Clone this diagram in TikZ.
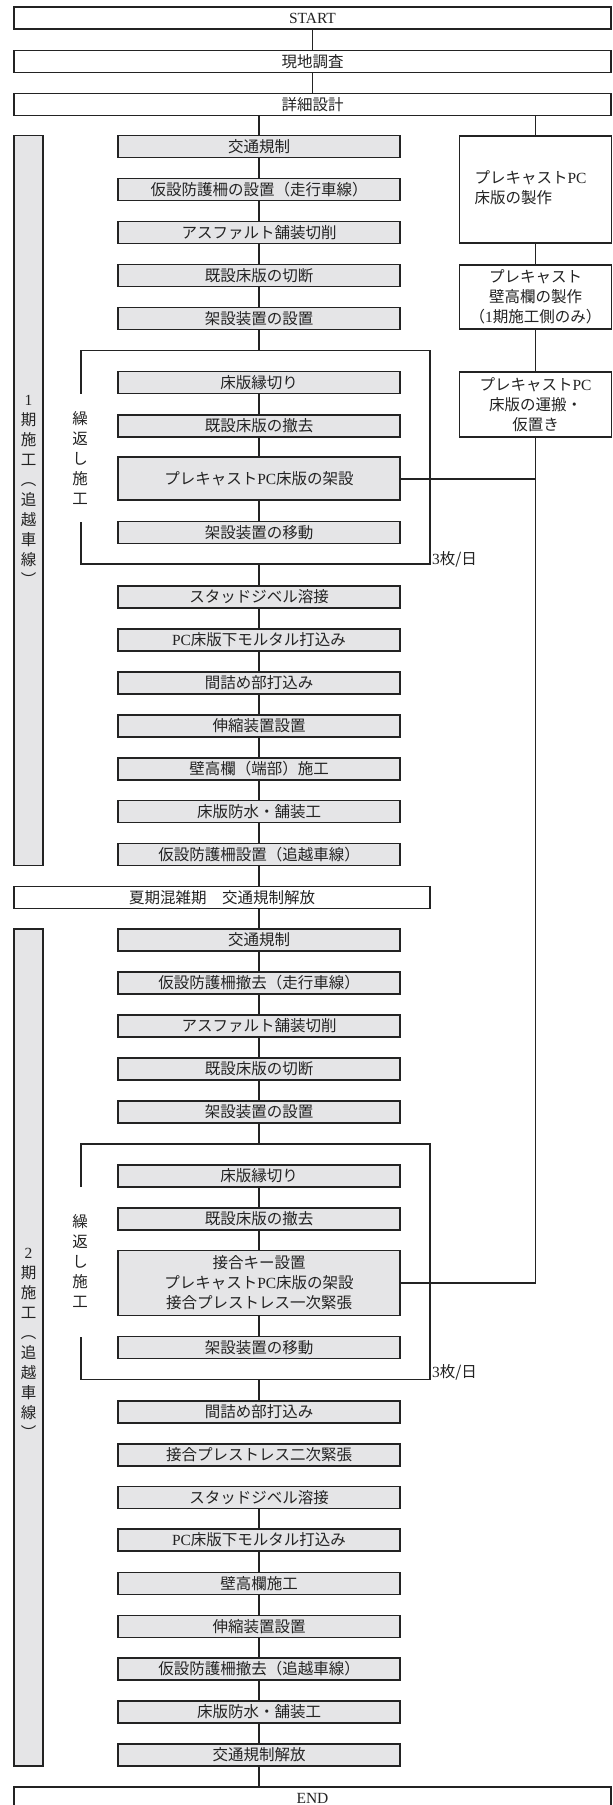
\documentclass[tikz,border=0pt]{standalone}
\usepackage{fontspec}
\setmainfont{Noto Sans CJK JP}
\newfontfamily\lat{Liberation Serif}
\definecolor{boxgray}{RGB}{229,229,231}
\definecolor{ink}{RGB}{35,35,35}
\begin{document}
\begin{tikzpicture}[x=1pt,y=-1pt,
  every node/.style={inner sep=0pt, outer sep=0pt, text=ink, font=\fontsize{15.5}{20}\selectfont},
  line/.style={draw=ink, line width=1.7pt},
  wide/.style={draw=ink, line width=1.7pt, fill=white, minimum height=22pt, align=center},
  stepbox/.style={draw=ink, line width=1.7pt, fill=boxgray, minimum width=282pt, minimum height=22pt, align=center},
  rbox/.style={draw=ink, line width=1.7pt, fill=white, minimum width=152pt, align=center},
  phasebar/.style={draw=ink, line width=1.7pt, fill=boxgray, minimum width=29pt},
  vtext/.style={align=center},
]
\useasboundingbox (0,0) rectangle (613,1805);

% top boxes
\node[wide, minimum width=597pt] (start) at (312.5,18) {\lat START};
\node[wide, minimum width=597pt] (genchi) at (312.5,61.5) {現地調査};
\node[wide, minimum width=597pt] (shosai) at (312.5,104.5) {詳細設計};

% phase bars
\node[phasebar, minimum height=730pt] (bar1) at (28.5,500.5) {};
\node[vtext] (lab1) at (28.5,490) {{\lat 1}\\期\\施\\工\\︵\\追\\越\\車\\線\\︶};
\node[phasebar, minimum height=837pt] (bar2) at (28.5,1347.5) {};
\node[vtext] (lab2) at (28.5,1343) {{\lat 2}\\期\\施\\工\\︵\\追\\越\\車\\線\\︶};

% phase 1 steps
\node[stepbox] (k1) at (259,146.5) {交通規制};
\node[stepbox] (k2) at (259,189.5) {仮設防護柵の設置（走行車線）};
\node[stepbox] (k3) at (259,232.5) {アスファルト舗装切削};
\node[stepbox] (k4) at (259,275.5) {既設床版の切断};
\node[stepbox] (k5) at (259,318.5) {架設装置の設置};
\node[stepbox] (k6) at (259,382.5) {床版縁切り};
\node[stepbox] (k7) at (259,425.8) {既設床版の撤去};
\node[stepbox, minimum height=43pt] (k8) at (259,478.7) {プレキャスト{\lat PC}床版の架設};
\node[stepbox] (k9) at (259,532.5) {架設装置の移動};
\node[stepbox] (k10) at (259,597) {スタッドジベル溶接};
\node[stepbox] (k11) at (259,640) {{\lat PC}床版下モルタル打込み};
\node[stepbox] (k12) at (259,683) {間詰め部打込み};
\node[stepbox] (k13) at (259,726) {伸縮装置設置};
\node[stepbox] (k14) at (259,769) {壁高欄（端部）施工};
\node[stepbox] (k15) at (259,811.5) {床版防水・舗装工};
\node[stepbox] (k16) at (259,854.5) {仮設防護柵設置（追越車線）};

% loop 1
\coordinate (L1tl) at (81,350.5);
\coordinate (L1tr) at (430,350.5);
\coordinate (L1br) at (430,564);
\coordinate (L1bl) at (81,564);
\draw[line] (k6.south -| L1tl) -- (L1tl) -- (L1tr) -- (L1br) -- (L1bl) -- (k9.north -| L1bl);
\node[vtext] (rep1) at (80,458) {繰\\返\\し\\施\\工};
\node[anchor=base west] (cnt1) at (432,564) {{\lat 3}枚/日};

% summer box
\node[wide, minimum width=416pt] (natsu) at (222,897.5) {夏期混雑期　交通規制解放};

% phase 2 steps
\node[stepbox] (q1) at (259,940) {交通規制};
\node[stepbox] (q2) at (259,983) {仮設防護柵撤去（走行車線）};
\node[stepbox] (q3) at (259,1026) {アスファルト舗装切削};
\node[stepbox] (q4) at (259,1069) {既設床版の切断};
\node[stepbox] (q5) at (259,1112) {架設装置の設置};
\node[stepbox] (q6) at (259,1176) {床版縁切り};
\node[stepbox] (q7) at (259,1219) {既設床版の撤去};
\node[stepbox, minimum height=65pt] (q8) at (259,1283) {接合キー設置\\プレキャスト{\lat PC}床版の架設\\接合プレストレス一次緊張};
\node[stepbox] (q9) at (259,1347.5) {架設装置の移動};
\node[stepbox] (q10) at (259,1412) {間詰め部打込み};
\node[stepbox] (q11) at (259,1455) {接合プレストレス二次緊張};
\node[stepbox] (q12) at (259,1497.5) {スタッドジベル溶接};
\node[stepbox] (q13) at (259,1540) {{\lat PC}床版下モルタル打込み};
\node[stepbox] (q14) at (259,1583.5) {壁高欄施工};
\node[stepbox] (q15) at (259,1626.5) {伸縮装置設置};
\node[stepbox] (q16) at (259,1669) {仮設防護柵撤去（追越車線）};
\node[stepbox] (q17) at (259,1712) {床版防水・舗装工};
\node[stepbox] (q18) at (259,1755) {交通規制解放};

% loop 2
\coordinate (L2tl) at (81,1144);
\coordinate (L2tr) at (430,1144);
\coordinate (L2br) at (430,1379.5);
\coordinate (L2bl) at (81,1379.5);
\draw[line] (q6.south -| L2tl) -- (L2tl) -- (L2tr) -- (L2br) -- (L2bl) -- (q9.north -| L2bl);
\node[vtext] (rep2) at (80,1261) {繰\\返\\し\\施\\工};
\node[anchor=base west] (cnt2) at (432,1377) {{\lat 3}枚/日};

% end
\node[wide, minimum width=597pt] (endb) at (312.5,1798) {\lat END};

% right column
\node[rbox, minimum height=107pt] (r1) at (535.5,189.5) {\raisebox{-10pt}{\begin{tabular}{@{}l@{}}プレキャスト{\lat PC}\\床版の製作\end{tabular}}\hspace*{10pt}};
\node[rbox, minimum height=64pt] (r2) at (535.5,297) {プレキャスト\\壁高欄の製作\\（{\lat 1}期施工側のみ）};
\node[rbox, minimum height=65pt] (r3) at (535.5,404.5) {プレキャスト{\lat PC}\\床版の運搬・\\仮置き};

% connectors
\draw[line] (start) -- (genchi);
\draw[line] (genchi) -- (shosai);
\draw[line] (shosai.south -| k1) -- (k1);
\draw[line] (shosai.south -| r1) -- (r1);
\draw[line] (r1) -- (r2);
\draw[line] (r2) -- (r3);
\draw[line] (r3.south) -- (r3.south |- q8.east) -- (q8.east);
\draw[line] (k8.east) -- (k8.east -| r3.south);
\foreach \a/\b in {k1/k2,k2/k3,k3/k4,k4/k5,k6/k7,k7/k8,k8/k9,k10/k11,k11/k12,k12/k13,k13/k14,k14/k15,k15/k16,
                   q1/q2,q2/q3,q3/q4,q4/q5,q6/q7,q7/q8,q8/q9,q12/q13,q13/q14,q14/q15,q15/q16,q16/q17,q17/q18}
  \draw[line] (\a) -- (\b);
\draw[line] (k5) -- (k5 |- L1tl);
\draw[line] (k10 |- L1bl) -- (k10);
\draw[line] (k16) -- (k16 |- natsu.north);
\draw[line] (natsu.south -| q1) -- (q1);
\draw[line] (q5) -- (q5 |- L2tl);
\draw[line] (q10 |- L2bl) -- (q10);
\draw[line] (q18) -- (q18 |- endb.north);
\end{tikzpicture}
\end{document}
